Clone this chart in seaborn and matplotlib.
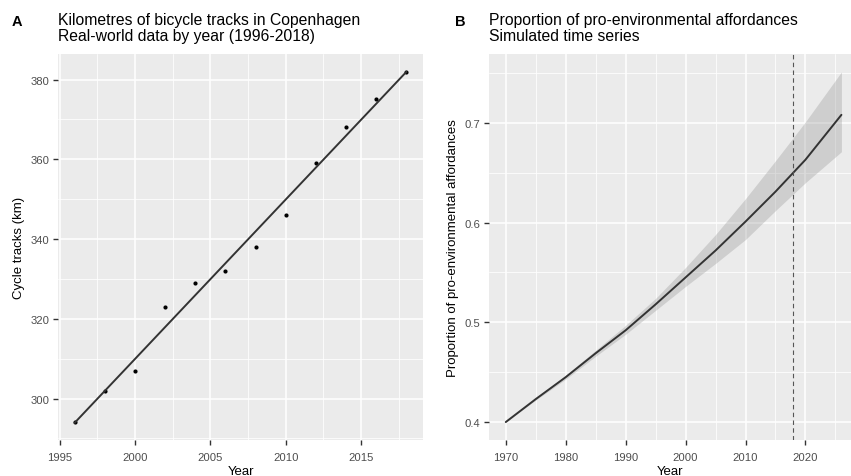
import numpy as np
import pandas as pd
import seaborn as sns
import matplotlib.pyplot as plt
from matplotlib.ticker import MultipleLocator

# Panel A: real-world data
track_years = [1996, 1998, 2000, 2002, 2004, 2006, 2008, 2010, 2012, 2014, 2016, 2018]
track_km = [294, 302, 307, 323, 329, 332, 338, 346, 359, 368, 375, 382]

# Panel B: simulated series (mean and interval)
sim_years = [1970, 1975, 1980, 1985, 1990, 1995, 2000, 2005, 2010, 2015, 2020, 2026]
sim_mean = [0.400, 0.423, 0.445, 0.469, 0.492, 0.518, 0.545, 0.572, 0.601, 0.631, 0.663, 0.708]
sim_upper = [0.400, 0.424, 0.447, 0.472, 0.497, 0.524, 0.555, 0.588, 0.624, 0.662, 0.701, 0.751]
sim_lower = [0.400, 0.422, 0.443, 0.466, 0.488, 0.512, 0.536, 0.559, 0.583, 0.612, 0.640, 0.671]
current_year = 2018

sns.set_theme(style='darkgrid')
plt.rcParams['font.family'] = ['Liberation Sans', 'DejaVu Sans']
plt.rcParams['text.color'] = 'black'
plt.rcParams['axes.labelcolor'] = 'black'

W, H = 851, 477
fig = plt.figure(figsize=(W / 100, H / 100), dpi=100)
fig.patch.set_facecolor('white')
ax1 = fig.add_axes([58 / W, 36 / H, 365 / W, 386 / H])
ax2 = fig.add_axes([489 / W, 36 / H, 362 / W, 386 / H])


def gg_style(ax):
    ax.set_facecolor('#EBEBEB')
    for s in ax.spines.values():
        s.set_visible(False)
    ax.set_axisbelow(True)
    ax.grid(which='major', color='white', lw=1.1)
    ax.grid(which='minor', color='white', lw=0.55)
    ax.tick_params(which='major', length=3.6, width=1.0, color='#333333',
                   labelsize=8.1, labelcolor='#4D4D4D', pad=2.8,
                   bottom=True, left=True)
    ax.tick_params(axis='x', which='major', pad=5.2)
    ax.tick_params(which='minor', length=0)


# A
df_a = pd.DataFrame({'Year': track_years, 'km': track_km})
sns.regplot(data=df_a, x='Year', y='km', ax=ax1, ci=None,
            scatter_kws={'s': 9, 'color': 'black', 'linewidths': 0, 'alpha': 1},
            line_kws={'color': '#333333', 'lw': 1.4})
ax1.set_xlim(1994.9, 2019.1)
ax1.set_ylim(289.6, 386.4)
ax1.xaxis.set_major_locator(MultipleLocator(5))
ax1.xaxis.set_minor_locator(MultipleLocator(2.5))
ax1.yaxis.set_major_locator(MultipleLocator(20))
ax1.yaxis.set_minor_locator(MultipleLocator(10))
gg_style(ax1)
ax1.set_xlabel('Year', fontsize=9.5, labelpad=2)
ax1.set_ylabel('Cycle tracks (km)', fontsize=9.5, labelpad=4)

# B
df_b = pd.DataFrame({'Year': sim_years, 'mean': sim_mean,
                     'lo': sim_lower, 'hi': sim_upper})
ax2.fill_between(df_b['Year'], df_b['lo'], df_b['hi'], color='#999999',
                 alpha=0.35, lw=0)
sns.lineplot(data=df_b, x='Year', y='mean', ax=ax2, color='#333333', lw=1.4)
ax2.axvline(current_year, color='#555555', ls=(0, (4, 3)), lw=0.8)
ax2.set_xlim(1967.2, 2027.6)
ax2.set_ylim(0.382, 0.769)
ax2.xaxis.set_major_locator(MultipleLocator(10))
ax2.xaxis.set_minor_locator(MultipleLocator(5))
ax2.yaxis.set_major_locator(MultipleLocator(0.1))
ax2.yaxis.set_minor_locator(MultipleLocator(0.05))
ax2.yaxis.set_major_formatter(plt.FuncFormatter(lambda v, p: f'{v:g}'))
gg_style(ax2)
ax2.set_xlabel('Year', fontsize=9.5, labelpad=2)
ax2.set_ylabel('Proportion of pro-environmental affordances', fontsize=9.5, labelpad=4)

# titles and panel letters
def top_text(x, y, s, **kw):
    fig.text(x / W, 1 - y / H, s, va='baseline', ha='left', **kw)

top_text(58, 25, 'Kilometres of bicycle tracks in Copenhagen', fontsize=11.3)
top_text(58, 41, 'Real-world data by year (1996-2018)', fontsize=11.3)
top_text(489, 25, 'Proportion of pro-environmental affordances', fontsize=11.3)
top_text(489, 41, 'Simulated time series', fontsize=11.3)
top_text(12, 26, 'A', fontsize=10.5, fontweight='bold')
top_text(455, 26, 'B', fontsize=10.5, fontweight='bold')

fig.savefig('out.png', dpi=100)
